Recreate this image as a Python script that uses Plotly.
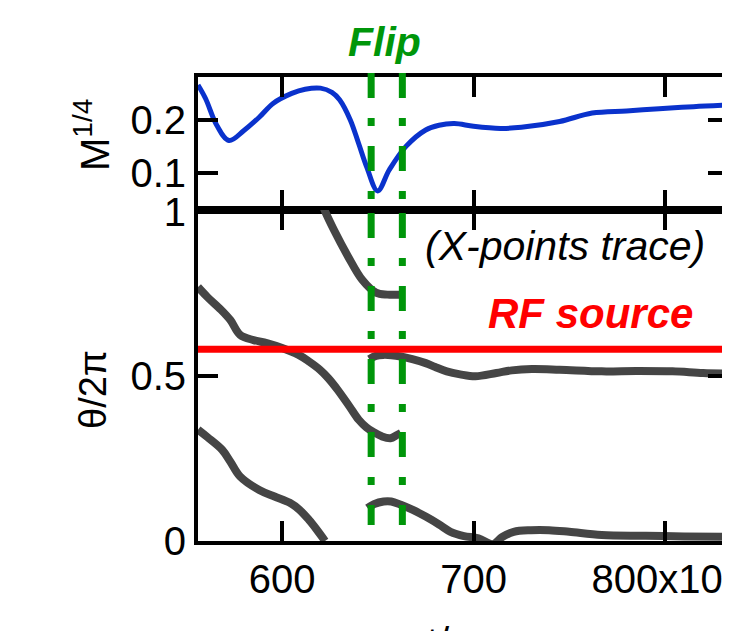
import plotly.graph_objects as go

# ---- data ----
m_t = [556, 560, 565.8, 572.2, 580, 588, 595.4, 605, 612, 620, 626, 630, 635.6, 640, 644.3, 649.9,
       656, 664.7, 675, 682, 690, 700, 714, 725, 745, 762, 780, 797, 815, 833]
m_val = [0.266, 0.24, 0.19, 0.161, 0.18, 0.205, 0.2315, 0.25, 0.258, 0.26, 0.252, 0.238, 0.2,
         0.155, 0.11, 0.066, 0.106, 0.150, 0.181, 0.190, 0.193, 0.188, 0.184, 0.186, 0.197,
         0.213, 0.217, 0.221, 0.225, 0.228]

# X-point traces (theta / 2pi)
a_t = [620.5, 622.5, 627, 634.4, 641.8, 649, 655, 662]
a_th = [1.03, 1.0, 0.945, 0.864, 0.793, 0.754, 0.748, 0.748]

b_t = [556, 561, 568, 573, 578, 585, 592, 600, 608.6, 614, 619.7, 624, 629, 635, 640, 644, 647.4, 652, 656.6, 660, 662]
b_th = [0.771, 0.74, 0.702, 0.67, 0.626, 0.610, 0.601, 0.586, 0.565, 0.545, 0.520, 0.495, 0.459,
        0.41, 0.368, 0.345, 0.332, 0.318, 0.312, 0.322, 0.328]

c_t = [556, 561, 568.6, 573, 578, 588, 596, 604, 609, 614, 618, 622.4]
c_th = [0.338, 0.315, 0.277, 0.24, 0.196, 0.155, 0.135, 0.116, 0.095, 0.064, 0.035, 0.0]

d_t = [645.5, 649, 652.9, 657, 662, 668, 675, 680, 686, 693, 701, 712, 720, 730.5, 745, 767, 785, 804, 820, 835]
d_th = [0.552, 0.562, 0.565, 0.564, 0.56, 0.552, 0.540, 0.528, 0.515, 0.506, 0.500, 0.510,
        0.518, 0.522, 0.520, 0.515, 0.516, 0.515, 0.510, 0.508]

e_t = [644.6, 648, 653, 657, 662, 668, 675, 682, 688, 695, 702.6, 710, 715, 721, 730, 739.5, 750, 767, 790, 810, 835]
e_th = [0.10, 0.112, 0.12, 0.12, 0.11, 0.095, 0.074, 0.05, 0.028, 0.015, 0.008, -0.01, 0.012,
        0.028, 0.033, 0.033, 0.028, 0.018, 0.016, 0.014, 0.013]

rf_t = [556, 833]
rf_th = [0.582, 0.582]

flip_times = [646.5, 662.8]

x_ticks = [600, 700, 800]
x_ticktext = ["600", "700", "800x10<sup>3</sup>"]
top_ticks = [0.1, 0.2]
bot_ticks = [0, 0.5, 1]
bot_ticktext = ["0", "0.5", "1"]

FONT = "Arial, Liberation Sans, sans-serif"
GRAY = "#454545"
GREEN = "#00960a"

fig = go.Figure()

fig.add_trace(go.Scatter(x=m_t, y=m_val, mode="lines", line=dict(color="#0a32cc", width=5, shape="spline"),
                         xaxis="x", yaxis="y", showlegend=False))

for tt, th in [(a_t, a_th), (b_t, b_th), (c_t, c_th), (d_t, d_th), (e_t, e_th)]:
    fig.add_trace(go.Scatter(x=tt, y=th, mode="lines", line=dict(color=GRAY, width=8, shape="spline"),
                             xaxis="x2", yaxis="y2", showlegend=False))

fig.add_trace(go.Scatter(x=rf_t, y=rf_th, mode="lines", line=dict(color="#ff0000", width=7),
                         xaxis="x2", yaxis="y2", showlegend=False, cliponaxis=False))

split = 0.7134
dash = "25px,20px,8px,20px"
for ft in flip_times:
    fig.add_shape(type="line", xref="x", yref="paper", x0=ft, x1=ft, y0=1.0086, y1=split,
                  line=dict(color=GREEN, width=7, dash=dash))
    fig.add_shape(type="line", xref="x2", yref="paper", x0=ft, x1=ft, y0=split - 0.0065, y1=0.0345,
                  line=dict(color=GREEN, width=7, dash=dash))

axis_common = dict(showline=True, linecolor="black", linewidth=4, mirror="allticks", ticks="inside",
                   ticklen=20, tickwidth=4, tickcolor="black", showgrid=False, zeroline=False,
                   automargin=False, tickfont=dict(family=FONT, size=40, color="black"))


def ann(text, x, y, size, color="black", xref="paper", angle=0, yanchor="middle"):
    return dict(text=text, x=x, xref=xref, y=y, yref="paper", showarrow=False, textangle=angle,
                xanchor="center", yanchor=yanchor, font=dict(family=FONT, size=size, color=color))


# page body has an 8px margin: figure is 722x623 so the plot fits the 730x631 window
fig.update_layout(
    width=722, height=623,
    margin=dict(l=190, r=2, t=69, b=90),
    plot_bgcolor="white", paper_bgcolor="white",
    showlegend=False,
    font=dict(family=FONT, color="black"),
    xaxis=dict(domain=[0, 1], anchor="y", range=[556, 833], tickvals=x_ticks, showticklabels=False, **axis_common),
    yaxis=dict(domain=[split, 1], anchor="x", range=[0.030, 0.281], tickvals=top_ticks,
               ticktext=["0.1", "0.2"], **axis_common),
    xaxis2=dict(domain=[0, 1], anchor="y2", range=[556, 833], tickvals=x_ticks, ticktext=x_ticktext,
                ticklabeloverflow="allow", **axis_common),
    yaxis2=dict(domain=[0, split], anchor="x2", range=[0, 1.005], tickvals=bot_ticks, ticktext=bot_ticktext,
                **axis_common),
    annotations=[
        ann("<b><i>Flip</i></b>", 653.4, (541 - 42) / 464, 41, GREEN, xref="x"),
        ann("<i>(X-points trace)</i>", (565 - 198) / 530, (541 - 246) / 464, 41),
        ann("<b><i>RF source</i></b>", (590 - 198) / 530, (541 - 313) / 464, 42, "#ff0000"),
        ann("M<sup>1/4</sup>", (92 - 198) / 530, (541 - 135) / 464, 40, angle=-90),
        ann("θ/2π", (93 - 198) / 530, (541 - 390) / 464, 38, angle=-90),
        ann("t/τ<sub>A</sub>", (455 - 198) / 530, (541 - 618) / 464, 40, yanchor="top"),
    ],
)

fig.write_html("out.html")
